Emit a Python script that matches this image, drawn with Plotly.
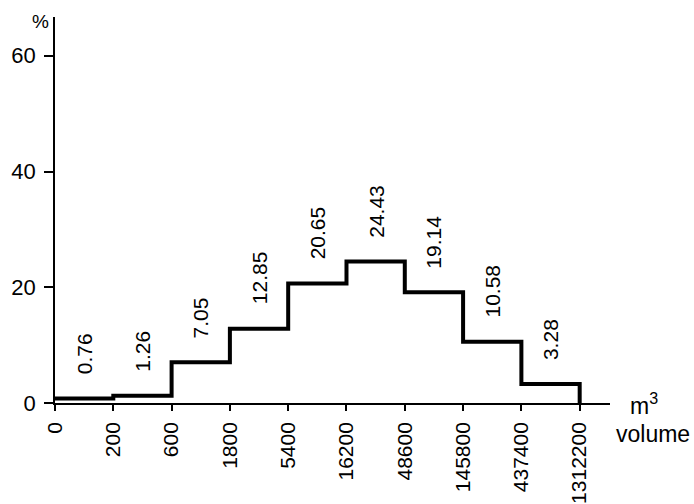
import plotly.graph_objects as go

# Volume class boundaries (m^3) and share of each class (%)
edges = ["0", "200", "600", "1800", "5400", "16200", "48600",
         "145800", "437400", "1312200"]
shares = [0.76, 1.26, 7.05, 12.85, 20.65, 24.43, 19.14, 10.58, 3.28]
y_ticks = [0, 20, 40, 60]

FONT = "Liberation Sans, Arial, Helvetica, sans-serif"

pos = list(range(len(edges)))

# Step outline: each class drawn as a flat segment, closed down to zero at the end
step_x = pos + [pos[-1]]
step_y = shares + [shares[-1], 0]

fig = go.Figure()
fig.add_trace(go.Scatter(
    x=step_x, y=step_y, mode="lines",
    line=dict(color="black", width=4, shape="hv"),
    hoverinfo="skip", showlegend=False,
))

annotations = []
for i, v in enumerate(shares):
    annotations.append(dict(
        x=i + 0.5, y=v, xref="x", yref="y", text=f"{v:.2f}",
        textangle=-90, showarrow=False, xanchor="center", yanchor="bottom",
        yshift=22, font=dict(family=FONT, size=21, color="black"),
    ))

annotations += [
    dict(x=0, y=66, xref="x", yref="y", text="%", showarrow=False,
         xanchor="right", yanchor="middle", xshift=-4,
         font=dict(family=FONT, size=19, color="black")),
    dict(x=1.0, y=0, xref="paper", yref="y", text="m<sup>3</sup>", showarrow=False,
         xanchor="left", yanchor="bottom", xshift=18, yshift=-18,
         font=dict(family=FONT, size=23, color="black")),
    dict(x=1.0, y=0, xref="paper", yref="y", text="volume", showarrow=False,
         xanchor="left", yanchor="top", xshift=4, yshift=-16,
         font=dict(family=FONT, size=23, color="black")),
]

fig.update_layout(
    width=694, height=504,
    margin=dict(l=55, r=84, t=17, b=101),
    paper_bgcolor="white", plot_bgcolor="white",
    showlegend=False,
    annotations=annotations,
    xaxis=dict(
        range=[0, 9.52], tickmode="array", tickvals=pos, ticktext=edges,
        tickangle=-90, ticks="outside", ticklen=6, tickwidth=1.5, tickcolor="black",
        ticklabelstandoff=3, automargin=False,
        showline=True, linecolor="black", linewidth=1.5,
        showgrid=False, zeroline=False,
        tickfont=dict(family=FONT, size=21, color="black"),
    ),
    yaxis=dict(
        range=[0, 66.7], tickmode="array", tickvals=y_ticks,
        ticks="outside", ticklen=9, tickwidth=1.5, tickcolor="black",
        ticklabelstandoff=4, automargin=False,
        showline=True, linecolor="black", linewidth=1.5,
        showgrid=False, zeroline=False,
        tickfont=dict(family=FONT, size=22, color="black"),
    ),
)

fig.write_html("out.html")
